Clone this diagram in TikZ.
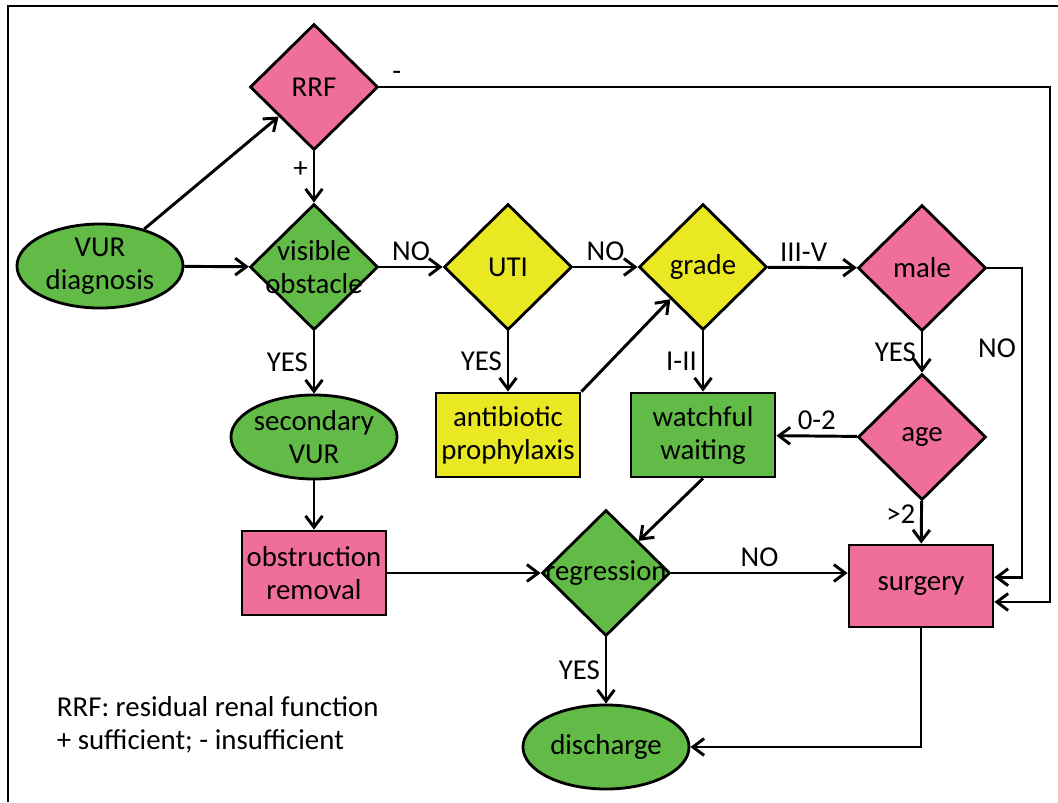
\documentclass[tikz,border=0pt]{standalone}
\usepackage{fontspec}
\setmainfont{Carlito}
\usetikzlibrary{shapes.geometric,arrows.meta}
\definecolor{vurpink}{RGB}{240,110,155}
\definecolor{vurgreen}{RGB}{98,187,70}
\definecolor{vuryellow}{RGB}{234,231,35}
\tikzset{
  every node/.style={font=\fontsize{20.5}{23.5}\selectfont},
  decision/.style={diamond, draw, fill=#1, line width=2pt, minimum width=3.2cm,
    minimum height=3.15cm, inner sep=0pt},
  action/.style={rectangle, draw, fill=#1, line width=2pt, minimum width=3.6cm,
    minimum height=2.1cm, inner sep=1pt, align=center},
  terminal/.style={ellipse, draw, fill=vurgreen, line width=2pt, minimum width=4.15cm,
    minimum height=2.1cm, inner sep=-6pt, align=center},
  flow/.style={->, line width=2.1pt}
}
\begin{document}
\begin{tikzpicture}[x=0.025cm, y=-0.025cm, >={Straight Barb[length=8pt,width=12pt]}]
  \useasboundingbox (0,0) rectangle (1058,802);
  % frame
  \draw[line width=1.3pt] (8,802) -- (8,6) -- (1058,6);

  \node[terminal] (vur) at (100,266) {VUR\\diagnosis};
  \node[decision=vurpink, label={center:RRF}] (rrf) at (314,87) {};
  \node[decision=vurgreen, label={[align=center]center:visible\\obstacle}] (vis) at (314,267) {};
  \node[decision=vuryellow, label={center:UTI}] (uti) at (508,267) {};
  \node[decision=vuryellow, label={center:grade}] (grade) at (703,267) {};
  \node[decision=vurpink, label={center:male}] (male) at (922,268) {};
  \node[decision=vurpink, label={center:age}] (age) at (922,437) {};
  \node[terminal] (secvur) at (314,437) {secondary\\VUR};
  \node[action=vuryellow] (anti) at (508,435) {antibiotic\\prophylaxis};
  \node[action=vurgreen] (watch) at (703,435) {watchful\\waiting};
  \node[action=vurpink] (obst) at (314,573) {obstruction\\removal};
  \node[decision=vurgreen, label={center:regression}] (regr) at (606,573) {};
  \node[action=vurpink, minimum height=2.05cm] (surg) at (921,586) {surgery};
  \node[terminal] (dis) at (606,747) {discharge};
  \node[align=left, anchor=west] (legend) at (52,725) {RRF: residual renal function\\+ sufficient; - insufficient};

  \coordinate (railin) at (1022,0);
  \coordinate (railout) at (1050,0);

  \draw[flow] (vur) -- (rrf);
  \draw[flow] (vur) -- (vis);
  \draw[flow] (rrf) -- node[left, pos=0.35]{+} (vis);
  \draw[flow] (rrf.east) -- node[above right, pos=0.01]{-} (rrf.east -| railout)
    |- ([yshift=-0.4cm]surg.east);
  \draw[flow] (vis) -- node[above]{NO} (uti);
  \draw[flow] (vis) -- node[left]{YES} (secvur);
  \draw[flow] (uti) -- node[above]{NO} (grade);
  \draw[flow] (uti) -- node[left]{YES} (anti);
  \draw[flow] (anti.north east) -- (grade.south west);
  \draw[flow] (grade) -- node[above, pos=0.4]{III-V} (male);
  \draw[flow] (grade) -- node[left]{I-II} (watch);
  \draw[flow] (male) -- node[left]{YES} (age);
  \draw[flow] (male.east) -- (male.east -| railin)
    |- node[left, pos=0.13]{NO} ([yshift=0.22cm]surg.east);
  \draw[flow] (age) -- node[above]{0-2} (watch);
  \draw[flow] (age) -- node[left, pos=0.3]{>2} (surg);
  \draw[flow] (watch.south) -- (regr.north east);
  \draw[flow] (secvur) -- (obst);
  \draw[flow] (obst) -- (regr);
  \draw[flow] (regr) -- node[above]{NO} (regr -| surg.west);
  \draw[flow] (regr) -- node[left]{YES} (dis);
  \draw[flow] (surg.south) |- (dis.east);
\end{tikzpicture}
\end{document}
